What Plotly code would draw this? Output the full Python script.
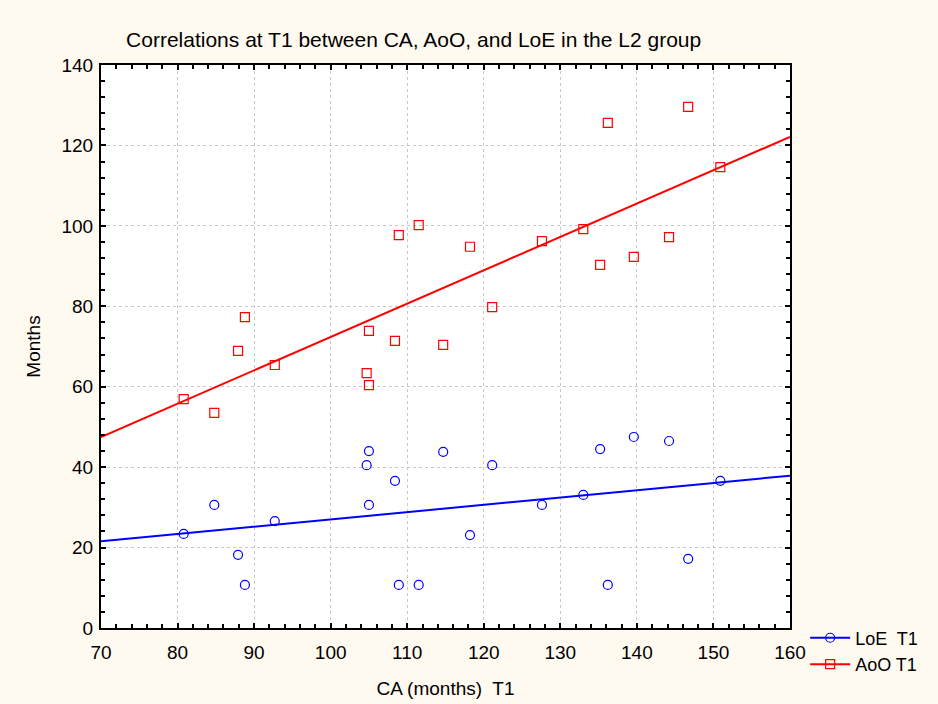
import numpy as np
import plotly.graph_objects as go

# CA (months) at T1
ca = [80.8, 84.8, 87.9, 88.8, 92.7, 104.7, 105.0, 105.0, 108.4, 108.9, 111.5,
      114.7, 118.2, 121.1, 127.6, 133.0, 135.2, 136.2, 139.6, 144.2, 146.7, 150.9]
# AoO T1
aoo = [56.9, 53.5, 68.9, 77.3, 65.4, 63.4, 73.9, 60.4, 71.4, 97.7, 100.2,
       70.4, 94.8, 79.8, 96.2, 99.2, 90.3, 125.6, 92.3, 97.2, 129.6, 114.6]
# LoE T1
loe = [23.4, 30.6, 18.2, 10.7, 26.6, 40.5, 44.0, 30.6, 36.6, 10.7, 10.7,
       43.8, 23.1, 40.5, 30.6, 33.1, 44.5, 10.7, 47.5, 46.5, 17.2, 36.6]

x_range = [70, 160]
y_range = [0, 140]

BLUE = "#0000ff"
RED = "#ff0000"
FONT = "Liberation Sans, Arial"

fig = go.Figure()

def fit_line(xs, ys):
    b, a = np.polyfit(xs, ys, 1)
    xx = np.array(x_range, dtype=float)
    return xx, a + b * xx

for name, ys, col, sym in [("LoE  T1", loe, BLUE, "circle-open"),
                           ("AoO T1", aoo, RED, "square-open")]:
    lx, ly = fit_line(ca, ys)
    fig.add_trace(go.Scatter(x=lx, y=ly, mode="lines", line=dict(color=col, width=2),
                             showlegend=False, hoverinfo="skip"))
    fig.add_trace(go.Scatter(x=ca, y=ys, mode="markers",
                             marker=dict(symbol=sym, size=9, color=col, line=dict(width=1.2, color=col)),
                             showlegend=False))
    fig.add_trace(go.Scatter(x=[None], y=[None], mode="lines+markers", name=name,
                             line=dict(color=col, width=2),
                             marker=dict(symbol=sym, size=9, color=col, line=dict(width=1.2, color=col))))

axis_common = dict(
    showline=True, linecolor="black", linewidth=2, mirror="allticks",
    ticks="inside", ticklen=5, tickwidth=1.5, tickcolor="black",
    showgrid=True, gridcolor="#c8c8c8", griddash="3px,3px", gridwidth=1,
    zeroline=False, automargin=False,
    tickfont=dict(family=FONT, size=19, color="black"),
)

fig.update_xaxes(range=x_range, dtick=10, tick0=70, ticklabelstandoff=6,
                 minor=dict(dtick=2, ticks="inside", ticklen=4, tickcolor="black", showgrid=False),
                 title=dict(text="CA (months)  T1", font=dict(family=FONT, size=19, color="black"), standoff=20),
                 **axis_common)
fig.update_yaxes(range=y_range, dtick=20, tick0=0, ticklabelstandoff=2,
                 minor=dict(dtick=4, ticks="inside", ticklen=4, tickcolor="black", showgrid=False),
                 title=dict(text="Months", font=dict(family=FONT, size=19, color="black"), standoff=16),
                 **axis_common)

fig.update_layout(
    width=938, height=704,
    margin=dict(l=101, r=148, t=65, b=76),
    paper_bgcolor="#fffaf0",
    plot_bgcolor="white",
    title=dict(text="Correlations at T1 between CA, AoO, and LoE in the L2 group",
               x=0.441, xanchor="center", y=0.943, yanchor="middle",
               font=dict(family=FONT, size=21, color="black")),
    legend=dict(x=1.022, y=0.015, xanchor="left", yanchor="top",
                bgcolor="rgba(0,0,0,0)", font=dict(family=FONT, size=18, color="black"),
                tracegroupgap=0, itemwidth=40),
    font=dict(family=FONT, color="black"),
)

fig.write_html("out.html")
